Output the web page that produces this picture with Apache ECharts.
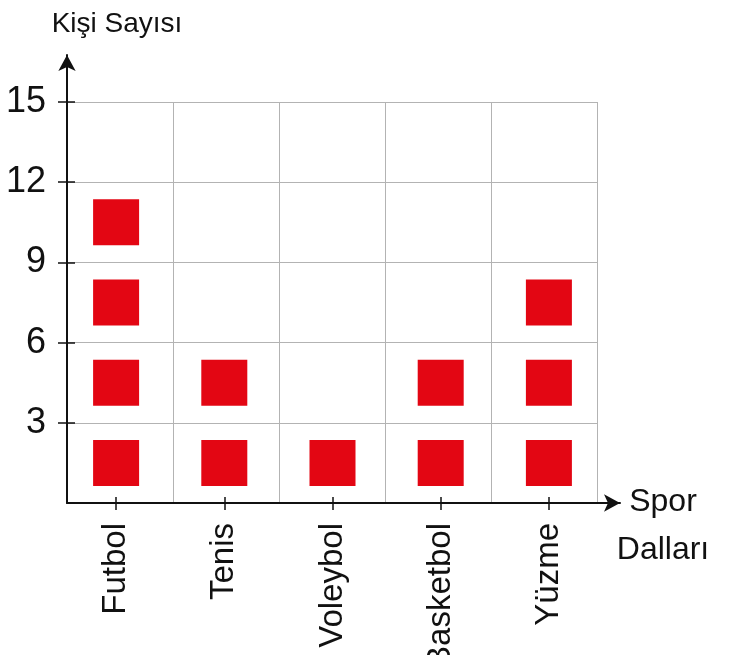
<!DOCTYPE html>
<html>
<head>
<meta charset="utf-8">
<script src="https://cdn.jsdelivr.net/npm/echarts@6/dist/echarts.min.js"></script>
<style>
  html, body { margin: 0; padding: 0; background: #fff; }
  #chart { width: 731px; height: 655px; }
</style>
</head>
<body>
<div id="chart"></div>
<script>
// Sports and how many people chose each one
const categories = ['Futbol', 'Tenis', 'Voleybol', 'Basketbol', 'Yüzme'];
const peopleCounts = [12, 6, 3, 6, 9];
// Each square stands for this many people
const peoplePerIcon = 3;
const yMin = 0;
const yMax = 15;
const yStep = 3;
const yTitle = 'Kişi Sayısı';
const xTitle = 'Spor\nDalları';

// One square per group of peoplePerIcon, stacked in its category column
const iconPoints = [];
peopleCounts.forEach(function (count, i) {
  const n = Math.round(count / peoplePerIcon);
  for (let k = 0; k < n; k++) {
    iconPoints.push([categories[i], peoplePerIcon * k + peoplePerIcon / 2]);
  }
});

const FONT = "'Liberation Sans', Arial, sans-serif";
const INK = '#111';
const GRID_LINE = '#b3b3b3';

const chart = echarts.init(document.getElementById('chart'), null, { renderer: 'canvas' });

chart.setOption({
  backgroundColor: '#fff',
  animation: false,
  grid: [
    // plot area with the grid cells
    { left: 67, right: 134, top: 102, bottom: 152, outerBoundsMode: 'none', containLabel: false },
    // axis lines with arrow heads, running past the plot area
    { left: 67, right: 111, top: 55, bottom: 152, outerBoundsMode: 'none', containLabel: false },
    // category ticks, labels and icons
    { left: 62, right: 128, top: 102, bottom: 152, outerBoundsMode: 'none', containLabel: false }
  ],
  xAxis: [
    {
      gridIndex: 0, type: 'category', data: categories, boundaryGap: true,
      axisLine: { show: false }, axisTick: { show: false }, axisLabel: { show: false },
      splitLine: { show: true, lineStyle: { color: GRID_LINE, width: 1 } }
    },
    {
      gridIndex: 1, type: 'value', min: 0, max: 1,
      axisLine: { show: true, onZero: false, symbol: ['none', 'arrow'], symbolSize: [13, 16],
        lineStyle: { color: INK, width: 2 } },
      axisTick: { show: false }, axisLabel: { show: false }, splitLine: { show: false }
    },
    {
      gridIndex: 2, type: 'category', data: categories, boundaryGap: true, position: 'bottom',
      axisLine: { show: false, onZero: false },
      axisTick: { show: true, alignWithLabel: true, length: 7, lineStyle: { color: INK, width: 1.5 } },
      axisLabel: { show: true, rotate: 90, margin: 20, fontFamily: FONT, fontSize: 33, color: INK },
      splitLine: { show: false }
    },
    {
      gridIndex: 2, type: 'category', data: categories, boundaryGap: true, position: 'bottom',
      axisLine: { show: false, onZero: false },
      axisTick: { show: true, inside: true, alignWithLabel: true, length: 6, lineStyle: { color: INK, width: 1.5 } },
      axisLabel: { show: false }, splitLine: { show: false }
    }
  ],
  yAxis: [
    {
      gridIndex: 0, type: 'value', min: yMin, max: yMax, interval: yStep, position: 'left',
      axisLine: { show: false },
      axisTick: { show: true, length: 9, lineStyle: { color: INK, width: 1.5 } },
      axisLabel: { show: true, showMinLabel: false, margin: 21, fontFamily: FONT, fontSize: 36, color: INK },
      splitLine: { show: true, lineStyle: { color: GRID_LINE, width: 1 } }
    },
    {
      gridIndex: 0, type: 'value', min: yMin, max: yMax, interval: yStep, position: 'left',
      axisLine: { show: false },
      axisTick: { show: true, inside: true, length: 8, lineStyle: { color: INK, width: 1.5 } },
      axisLabel: { show: false }, splitLine: { show: false }
    },
    {
      gridIndex: 1, type: 'value', min: 0, max: 1, position: 'left',
      axisLine: { show: true, onZero: false, symbol: ['none', 'arrow'], symbolSize: [13, 16],
        lineStyle: { color: INK, width: 2 } },
      axisTick: { show: false }, axisLabel: { show: false }, splitLine: { show: false },
      name: yTitle, nameLocation: 'end', nameGap: 31,
      nameTextStyle: { fontFamily: FONT, fontSize: 28, color: INK,
        align: 'center', verticalAlign: 'middle', padding: [0, 0, 0, 100] }
    },
    {
      gridIndex: 2, type: 'value', min: yMin, max: yMax, interval: yStep, position: 'left', show: false
    }
  ],
  // title of the category axis, to the right of its arrow
  graphic: [
    {
      type: 'text', x: 663, y: 478, z: 10,
      style: { text: xTitle, align: 'center', verticalAlign: 'top', lineHeight: 48,
        fontFamily: FONT, fontSize: 32, fill: INK }
    }
  ],
  series: [
    {
      type: 'scatter',
      xAxisIndex: 2,
      yAxisIndex: 3,
      symbol: 'rect',
      symbolSize: [46, 46],
      itemStyle: { color: '#e30613', opacity: 1 },
      data: iconPoints,
      z: 5
    }
  ]
});
</script>
</body>
</html>
